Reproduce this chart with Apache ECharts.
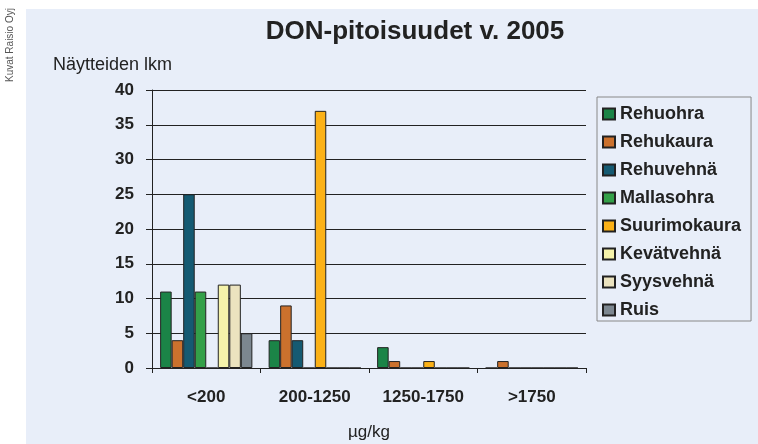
<!DOCTYPE html>
<html>
<head>
<meta charset="utf-8">
<script src="https://cdn.jsdelivr.net/npm/echarts@6/dist/echarts.min.js"></script>
<style>
  html, body { margin: 0; padding: 0; background: #fff; }
  #chart { width: 758px; height: 444px; }
</style>
</head>
<body>
<div id="chart"></div>
<script>
// pitoisuusluokat
var categories = ['<200', '200-1250', '1250-1750', '>1750'];
var yTicks = [0, 5, 10, 15, 20, 25, 30, 35, 40];

var rehuohra     = [11, 4, 3, 0];
var rehukaura    = [4, 9, 1, 1];
var rehuvehna    = [25, 4, 0, 0];
var mallasohra   = [11, 0, 0, 0];
var suurimokaura = [0, 37, 1, 0];
var kevatvehna   = [12, 0, 0, 0];
var syysvehna    = [12, 0, 0, 0];
var ruis         = [5, 0, 0, 0];

var seriesNames = ['Rehuohra', 'Rehukaura', 'Rehuvehnä', 'Mallasohra', 'Suurimokaura', 'Kevätvehnä', 'Syysvehnä', 'Ruis'];
var seriesData = [rehuohra, rehukaura, rehuvehna, mallasohra, suurimokaura, kevatvehna, syysvehna, ruis];
var colors = ['#1b8447', '#cb712d', '#155a72', '#33a048', '#fbb117', '#f5f3aa', '#ebe3bf', '#7c8790'];

var font = '"Liberation Sans", Arial, sans-serif';

var chart = echarts.init(document.getElementById('chart'));

var series = seriesNames.map(function (name, i) {
    return {
        name: name,
        type: 'bar',
        data: seriesData[i],
        barGap: '0%',
        barCategoryGap: '15%',
        itemStyle: {
            color: colors[i],
            borderColor: '#222',
            borderWidth: 1
        }
    };
});

var option = {
    backgroundColor: '#fff',
    textStyle: { fontFamily: font },
    graphic: [
        {
            type: 'rect',
            shape: { x: 26, y: 9, width: 732, height: 435 },
            style: { fill: '#e8eef9' },
            z: -10
        },
        {
            type: 'text',
            x: 5,
            y: 82,
            rotation: Math.PI / 2,
            style: {
                text: 'Kuvat Raisio Oyj',
                fontSize: 10,
                fontFamily: font,
                fill: '#555'
            }
        }
    ],
    title: [
        {
            text: 'DON-pitoisuudet v. 2005',
            left: 410,
            top: 14,
            textAlign: 'center',
            textStyle: { fontSize: 26, fontWeight: 'bold', color: '#222', fontFamily: font }
        },
        {
            text: 'Näytteiden lkm',
            left: 48,
            top: 51,
            textStyle: { fontSize: 18, fontWeight: 'normal', color: '#222', fontFamily: font }
        }
    ],
    legend: {
        orient: 'vertical',
        left: 597,
        top: 97,
        padding: [8, 10, 2, 5],
        itemGap: 10,
        itemWidth: 12,
        itemHeight: 11,
        borderColor: '#888',
        borderWidth: 1,
        icon: 'rect',
        textStyle: { fontSize: 18, fontWeight: 'bold', color: '#222', fontFamily: font, lineHeight: 18 },
        data: seriesNames
    },
    grid: { left: 152, right: 172, top: 90, bottom: 76, outerBoundsMode: 'none' },
    xAxis: {
        type: 'category',
        data: categories,
        name: 'µg/kg',
        nameLocation: 'middle',
        nameGap: 56,
        nameTextStyle: { fontSize: 17, color: '#222' },
        axisLine: { lineStyle: { color: '#222', width: 1 } },
        axisTick: { show: true, length: 5, lineStyle: { color: '#222' } },
        axisLabel: { fontSize: 17, fontWeight: 'bold', color: '#222', margin: 21 }
    },
    yAxis: {
        type: 'value',
        min: yTicks[0],
        max: yTicks[yTicks.length - 1],
        interval: 5,
        axisLine: { show: true, lineStyle: { color: '#222', width: 1 } },
        axisTick: { show: true, length: 6, lineStyle: { color: '#222' } },
        axisLabel: { fontSize: 17, fontWeight: 'bold', color: '#222', margin: 18 },
        splitLine: { lineStyle: { color: '#222', width: 1 } }
    },
    series: series
};

chart.setOption(option);
</script>
</body>
</html>
